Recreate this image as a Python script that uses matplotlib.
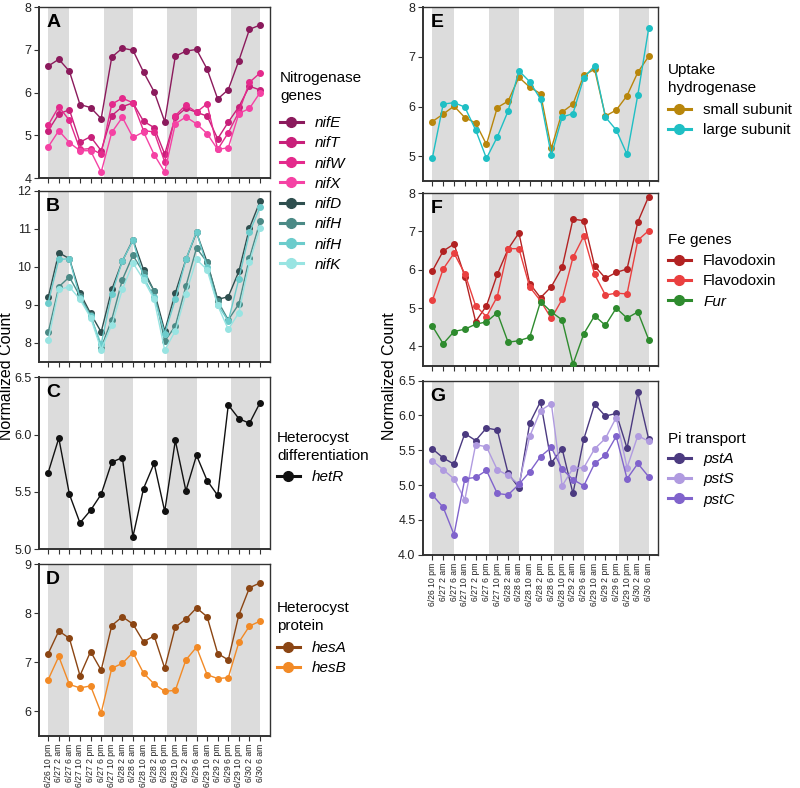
import matplotlib
matplotlib.use("Agg")
import matplotlib.pyplot as plt
from matplotlib.lines import Line2D

plt.rcParams["font.family"] = ["Liberation Sans", "DejaVu Sans"]

# ------------------------------------------------------------------ #
# data
# ------------------------------------------------------------------ #
TIMES = ["6/26 10 pm", "6/27 2 am", "6/27 6 am", "6/27 10 am", "6/27 2 pm",
         "6/27 6 pm", "6/27 10 pm", "6/28 2 am", "6/28 6 am", "6/28 10 am",
         "6/28 2 pm", "6/28 6 pm", "6/28 10 pm", "6/29 2 am", "6/29 6 am",
         "6/29 10 am", "6/29 2 pm", "6/29 6 pm", "6/29 10 pm", "6/30 2 am",
         "6/30 6 am"]
NIGHTS = [(0, 2), (5.25, 8), (11.25, 14), (17.25, 20)]

nifE = [6.62, 6.78, 6.50, 5.72, 5.65, 5.39, 6.83, 7.04, 6.99, 6.48, 6.02,
        5.32, 6.85, 6.97, 7.01, 6.55, 5.85, 6.07, 6.75, 7.48, 7.58]
nifT = [5.11, 5.50, 5.60, 4.84, 4.97, 4.64, 5.46, 5.67, 5.76, 5.33, 5.18,
        4.56, 5.43, 5.63, 5.54, 5.45, 4.92, 5.31, 5.67, 6.15, 6.06]
nifW = [5.24, 5.67, 5.35, 4.67, 4.69, 4.56, 5.73, 5.87, 5.76, 5.11, 5.08,
        4.38, 5.46, 5.71, 5.54, 5.74, 4.67, 5.06, 5.55, 6.24, 6.46]
nifX = [4.73, 5.11, 4.83, 4.64, 4.64, 4.14, 5.07, 5.42, 4.95, 5.08, 4.55,
        4.14, 5.27, 5.43, 5.27, 5.04, 4.67, 4.71, 5.51, 5.63, 6.00]

nifD = [9.19, 10.37, 10.21, 9.31, 8.77, 8.28, 9.40, 10.15, 10.71, 9.92, 9.36,
        8.31, 9.31, 10.19, 10.90, 10.12, 9.14, 9.21, 9.88, 11.02, 11.72]
nifH_1 = [8.27, 9.47, 9.73, 9.22, 8.72, 7.87, 8.61, 9.66, 10.30, 9.84, 9.36,
          8.04, 8.44, 9.49, 10.49, 10.12, 9.10, 8.60, 9.02, 10.23, 11.19]
nifH_2 = [9.05, 10.19, 10.21, 9.18, 8.70, 7.96, 9.28, 10.15, 10.69, 9.73, 9.20,
          8.24, 9.14, 10.19, 10.92, 10.00, 9.00, 8.57, 9.68, 10.90, 11.57]
nifK = [8.06, 9.40, 9.47, 9.14, 8.66, 7.82, 8.47, 9.40, 10.10, 9.66, 9.14,
        7.80, 8.31, 9.29, 10.19, 9.92, 8.98, 8.35, 8.79, 10.12, 11.02]

hetR = [5.67, 5.97, 5.48, 5.23, 5.34, 5.48, 5.76, 5.80, 5.11, 5.53, 5.75,
        5.33, 5.95, 5.51, 5.82, 5.60, 5.47, 6.26, 6.14, 6.10, 6.28]

hesA = [7.18, 7.64, 7.49, 6.73, 7.22, 6.84, 7.75, 7.93, 7.78, 7.42, 7.54,
        6.88, 7.72, 7.88, 8.11, 7.93, 7.18, 7.05, 7.97, 8.52, 8.62]
hesB = [6.65, 7.12, 6.55, 6.48, 6.52, 5.97, 6.88, 6.98, 7.20, 6.78, 6.56,
        6.41, 6.43, 7.05, 7.31, 6.75, 6.67, 6.69, 7.41, 7.74, 7.84]

hyd_small = [5.70, 5.85, 6.01, 5.78, 5.67, 5.24, 5.98, 6.11, 6.59, 6.39, 6.26,
             5.16, 5.89, 6.05, 6.63, 6.75, 5.81, 5.93, 6.22, 6.69, 7.01]
hyd_large = [4.97, 6.05, 6.08, 5.99, 5.53, 4.96, 5.39, 5.91, 6.72, 6.50, 6.15,
             5.02, 5.79, 5.86, 6.58, 6.82, 5.79, 5.53, 5.04, 6.24, 7.57]

flav_1 = [5.97, 6.49, 6.67, 5.82, 4.65, 5.06, 5.88, 6.54, 6.96, 5.64, 5.27,
          5.56, 6.06, 7.32, 7.28, 6.10, 5.78, 5.93, 6.02, 7.25, 7.91]
flav_2 = [5.20, 6.02, 6.43, 5.90, 5.06, 4.78, 5.30, 6.55, 6.55, 5.55, 5.19,
          4.73, 5.23, 6.32, 6.88, 5.88, 5.34, 5.39, 5.37, 6.77, 7.02]
fur = [4.53, 4.07, 4.39, 4.45, 4.58, 4.64, 4.88, 4.11, 4.15, 4.24, 5.17,
       4.90, 4.69, 3.54, 4.33, 4.80, 4.55, 5.00, 4.74, 4.90, 4.18]

pstA = [5.52, 5.39, 5.30, 5.74, 5.64, 5.82, 5.79, 5.17, 4.96, 5.89, 6.20,
        5.32, 5.52, 4.88, 5.66, 6.16, 5.99, 6.03, 5.53, 6.33, 5.66]
pstS = [5.35, 5.22, 5.09, 4.79, 5.58, 5.55, 5.22, 5.14, 5.01, 5.70, 6.07,
        6.17, 4.99, 5.24, 5.25, 5.52, 5.67, 5.97, 5.25, 5.71, 5.63]
pstC = [4.86, 4.68, 4.29, 5.09, 5.11, 5.21, 4.88, 4.86, 5.01, 5.19, 5.41,
        5.54, 5.23, 5.08, 4.99, 5.31, 5.43, 5.70, 5.09, 5.31, 5.12]

# ------------------------------------------------------------------ #
# helpers
# ------------------------------------------------------------------ #
SHADE = "#dcdcdc"
H = 788.0
X = list(range(len(TIMES)))


def _panel(ax, series, ylim, yticks, letter, fmt="{:g}", xlabels=False):
    for lo, hi in NIGHTS:
        ax.axvspan(lo, hi, color=SHADE, lw=0, zorder=0)
    for vals, color in series:
        ax.plot(X, vals, color=color, marker="o", markersize=4,
                linewidth=1, zorder=3)
    ax.set_xlim(-0.85, 20.9)
    ax.set_ylim(*ylim)
    ax.set_yticks(yticks)
    ax.set_yticklabels([fmt.format(t) for t in yticks], fontsize=9,
                       color="#222222")
    ax.set_xticks(X)
    if xlabels:
        ax.set_xticklabels(TIMES, rotation=90, fontsize=6.2, color="#222222")
    else:
        ax.set_xticklabels([])
    ax.tick_params(length=3.5, width=0.8, color="#333333", pad=2)
    for side in ax.spines:
        ax.spines[side].set_linewidth(1.0)
        ax.spines[side].set_color("#333333")
    ax.spines["left"].set_linewidth(1.4)
    ax.spines["bottom"].set_linewidth(1.4)
    ax.text(0.03, 0.96, letter, transform=ax.transAxes, fontsize=14,
            fontweight="bold", va="top", ha="left")


def _legend(fig, colors, labels, italic, title, x, y_title, y_first):
    fig.text(x / 800, 1 - y_title / H, title, fontsize=11, va="center",
             ha="left", linespacing=1.3)
    handles = [Line2D([], [], color=c, marker="o", markersize=7,
                      linewidth=2.2) for c in colors]
    leg = fig.legend(handles, labels, loc="upper left",
                     bbox_to_anchor=(x / 800, 1 - (y_first - 7) / H),
                     frameon=False, fontsize=11, handlelength=1.5,
                     labelspacing=0.41, handletextpad=0.8, borderpad=0,
                     borderaxespad=0)
    for txt, it in zip(leg.get_texts(), italic):
        if it:
            txt.set_style("italic")
    return leg


# ------------------------------------------------------------------ #
# figure
# ------------------------------------------------------------------ #
fig = plt.figure(figsize=(8, 7.88), dpi=100)

axA = fig.add_axes([0.049, 0.774, 0.288, 0.217])
axB = fig.add_axes([0.049, 0.541, 0.288, 0.217])
axC = fig.add_axes([0.049, 0.303, 0.288, 0.218])
axD = fig.add_axes([0.049, 0.066, 0.288, 0.218])
axE = fig.add_axes([0.529, 0.770, 0.294, 0.221])
axF = fig.add_axes([0.529, 0.536, 0.294, 0.219])
axG = fig.add_axes([0.529, 0.296, 0.294, 0.221])

COL_A = ["#8b1a5c", "#c8207a", "#e42a8c", "#f542a4"]
COL_B = ["#2f4f4f", "#4b8a86", "#6ccccc", "#98e4e2"]
COL_D = ["#8b4513", "#f28a26"]
COL_E = ["#b8860b", "#1fbfc4"]
COL_F = ["#b22222", "#ea4040", "#2e8b2e"]
COL_G = ["#4b3a80", "#b09be0", "#8063cc"]

_panel(axA, zip([nifE, nifT, nifW, nifX], COL_A), (4, 8), [4, 5, 6, 7, 8], "A")
_panel(axB, zip([nifD, nifH_1, nifH_2, nifK], COL_B), (7.5, 12),
       [8, 9, 10, 11, 12], "B")
_panel(axC, [(hetR, "#111111")], (5.0, 6.5), [5.0, 5.5, 6.0, 6.5], "C",
       fmt="{:.1f}")
_panel(axD, zip([hesA, hesB], COL_D), (5.5, 9), [6, 7, 8, 9], "D",
       xlabels=True)
_panel(axE, zip([hyd_small, hyd_large], COL_E), (4.5, 8), [5, 6, 7, 8], "E")
_panel(axF, zip([flav_1, flav_2, fur], COL_F), (3.5, 8), [4, 5, 6, 7, 8], "F")
_panel(axG, zip([pstA, pstS, pstC], COL_G), (4.0, 6.5),
       [4.0, 4.5, 5.0, 5.5, 6.0, 6.5], "G", fmt="{:.1f}", xlabels=True)

_legend(fig, COL_A + COL_B,
        ["nifE", "nifT", "nifW", "nifX", "nifD", "nifH", "nifH", "nifK"],
        [True] * 8, "Nitrogenase\ngenes", 280, 87, 123)
_legend(fig, ["#111111"], ["hetR"], [True], "Heterocyst\ndifferentiation",
        277, 447, 477)
_legend(fig, COL_D, ["hesA", "hesB"], [True, True], "Heterocyst\nprotein",
        277, 617, 648)
_legend(fig, COL_E, ["small subunit", "large subunit"], [False, False],
        "Uptake\nhydrogenase", 668, 79, 110)
_legend(fig, COL_F, ["Flavodoxin", "Flavodoxin", "Fur"], [False, False, True],
        "Fe genes", 668, 240, 261)
_legend(fig, COL_G, ["pstA", "pstS", "pstC"], [True, True, True],
        "Pi transport", 668, 439, 459)

fig.text(7 / 800, 1 - 376 / H, "Normalized Count", rotation=90, fontsize=11.5,
         va="center", ha="center")
fig.text(389 / 800, 1 - 376 / H, "Normalized Count", rotation=90,
         fontsize=11.5, va="center", ha="center")

fig.savefig("out.png", dpi=100)
